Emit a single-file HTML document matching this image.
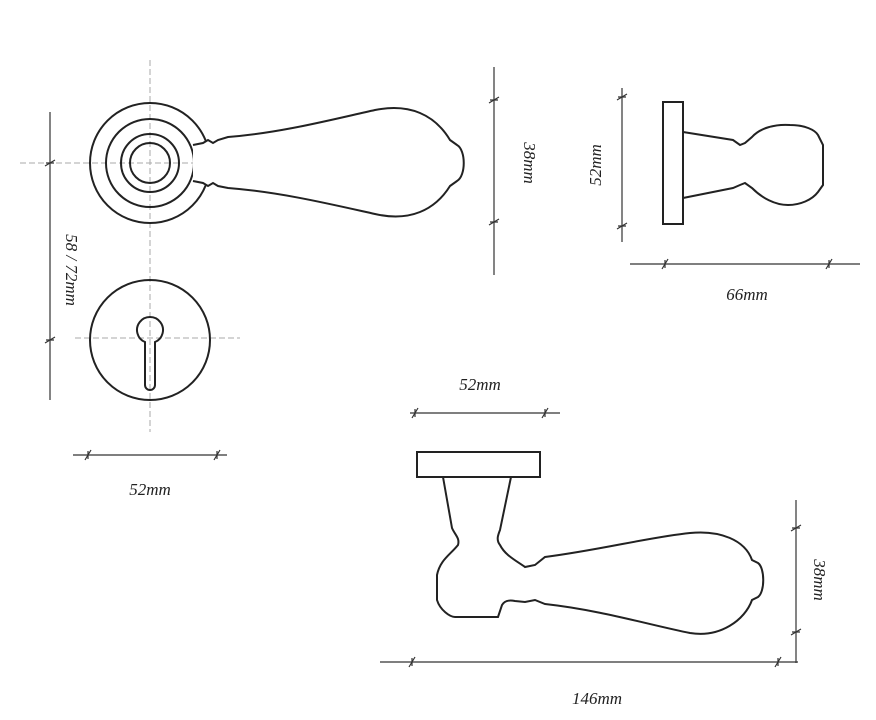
<!DOCTYPE html>
<html><head><style>body{margin:0;background:#fff}svg{display:block}</style></head><body>
<svg width="876" height="720" viewBox="0 0 876 720" xmlns="http://www.w3.org/2000/svg">
<g stroke="#aaa" stroke-width="1" stroke-dasharray="6,3" fill="none">
<line x1="150" y1="60" x2="150" y2="432"/>
<line x1="20" y1="163" x2="310" y2="163"/>
<line x1="75" y1="338" x2="240" y2="338"/>
</g>
<g stroke="#222" stroke-width="2" fill="none">
<circle cx="150" cy="163" r="60"/>
<circle cx="150" cy="163" r="44"/>
<circle cx="150" cy="163" r="29"/>
<circle cx="150" cy="163" r="20"/>
<path d="M193,145 L203,143 L208,140 L213,143 L218,140 L228,137 C280,133 330,120 375,110 C410,103 435,115 450,140 L457,145 C466,150 466,176 457,181 L450,186 C435,210 410,222 375,214 C330,204 280,192 228,188 L218,186 L213,183 L208,186 L203,183 L193,181" fill="#fff"/>
<circle cx="150" cy="340" r="60"/>
<path d="M145,385 L145,342 A13,13 0 1 1 155,342 L155,385 A5,5 0 0 1 145,385 Z"/>
<rect x="663" y="102" width="20" height="122"/>
<path d="M683,132 L733,140 L740,145 L745,143 L752,137 C760,128 775,124 790,125 C805,125 815,130 818,135 L823,145 L823,185 L818,192 C812,200 800,205 788,205 C775,205 762,198 752,188 L745,183 L740,185 L733,188 L683,198"/>
<rect x="417" y="452" width="123" height="25"/>
<path d="M443,477 L452,528 C455,535 460,538 458,545 C450,555 440,560 437,575 L437,600 C440,610 450,617 455,617 L498,617 L502,605 C505,600 510,600 515,601 L525,602 L535,600 L545,604 C600,610 650,625 690,633 C720,638 745,620 752,600 L758,597 C765,592 765,568 758,563 L752,560 C745,540 720,530 690,533 C650,537 600,550 545,557 L535,565 L525,567 C515,560 505,555 500,545 C496,540 498,535 500,530 L511,477"/>
</g>
<g stroke="#333" stroke-width="1.2" fill="none">
<line x1="50" y1="112" x2="50" y2="400"/>
<path d="M45,166 L55,160 M46,163 L54,163 M45,343 L55,337 M46,340 L54,340"/>
<line x1="73" y1="455" x2="227" y2="455"/>
<path d="M85,460 L91,450 M88,451 L88,459 M214,460 L220,450 M217,451 L217,459"/>
<line x1="494" y1="67" x2="494" y2="275"/>
<path d="M489,103 L499,97 M490,100 L498,100 M489,225 L499,219 M490,222 L498,222"/>
<line x1="622" y1="88" x2="622" y2="242"/>
<path d="M617,100 L627,94 M618,97 L626,97 M617,229 L627,223 M618,226 L626,226"/>
<line x1="630" y1="264" x2="860" y2="264"/>
<path d="M662,269 L668,259 M665,260 L665,268 M826,269 L832,259 M829,260 L829,268"/>
<line x1="410" y1="413" x2="560" y2="413"/>
<path d="M412,418 L418,408 M415,409 L415,417 M542,418 L548,408 M545,409 L545,417"/>
<line x1="796" y1="500" x2="796" y2="663"/>
<path d="M791,531 L801,525 M792,528 L800,528 M791,635 L801,629 M792,632 L800,632"/>
<line x1="380" y1="662" x2="798" y2="662"/>
<path d="M409,667 L415,657 M412,658 L412,666 M775,667 L781,657 M778,658 L778,666"/>
</g>
<g font-family="Liberation Serif, serif" font-style="italic" font-size="17" fill="#222" text-anchor="middle">
<text x="150" y="495">52mm</text>
<text x="747" y="300">66mm</text>
<text x="480" y="390">52mm</text>
<text x="597" y="704">146mm</text>
<text transform="translate(66,270) rotate(90)">58 / 72mm</text>
<text transform="translate(524,163) rotate(90)">38mm</text>
<text transform="translate(601,165) rotate(-90)">52mm</text>
<text transform="translate(814,580) rotate(90)">38mm</text>
</g>
</svg>
</body></html>
